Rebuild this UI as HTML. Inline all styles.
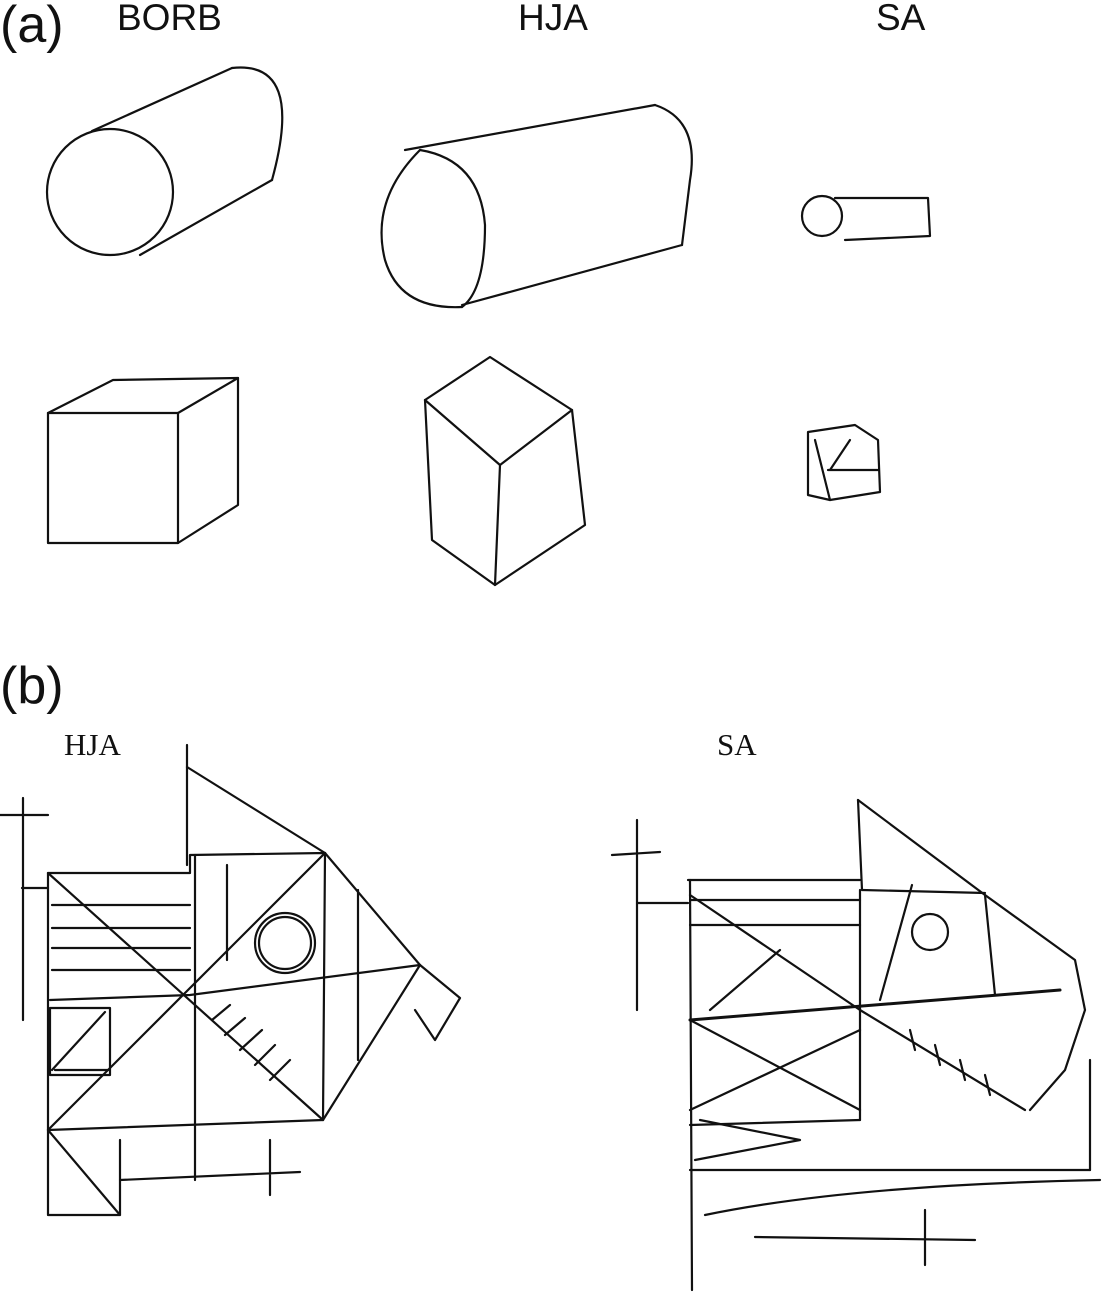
<!DOCTYPE html>
<html><head><meta charset="utf-8"><style>
html,body{margin:0;padding:0;background:#fff;}
svg{display:block;}
</style></head><body>
<svg width="1102" height="1301" viewBox="0 0 1102 1301" xmlns="http://www.w3.org/2000/svg">
<g font-family="Liberation Sans, sans-serif" fill="#111">
<text x="0" y="42" font-size="52">(a)</text>
<text x="117" y="30" font-size="37">BORB</text>
<text x="518" y="30" font-size="37">HJA</text>
<text x="876" y="30" font-size="37">SA</text>
<text x="0" y="703" font-size="52">(b)</text>
</g>
<g font-family="Liberation Serif, serif" fill="#111" font-size="31">
<text x="64" y="755">HJA</text>
<text x="717" y="755">SA</text>
</g>
<g fill="none" stroke="#111" stroke-width="2.2" stroke-linecap="round" stroke-linejoin="round">
<circle cx="110" cy="192" r="63"/>
<line x1="92" y1="131" x2="232" y2="68"/>
<line x1="140" y1="255" x2="272" y2="180"/>
<path d="M232 68 Q305 60 272 180"/>
<path d="M420 150 Q370 200 385 260 Q400 310 462 307"/>
<path d="M420 150 Q480 160 485 225 Q485 290 462 307"/>
<path d="M405 150 L655 105"/>
<path d="M462 305 L682 245"/>
<path d="M655 105 Q700 120 690 180 L682 245"/>
<circle cx="822" cy="216" r="20"/>
<path d="M835 198 L928 198 L930 236 L845 240"/>
<path d="M48 413 L178 413 L178 543 L48 543 Z"/>
<path d="M48 413 L113 380 L238 378 L178 413"/>
<path d="M238 378 L238 505 L178 543"/>
<path d="M425 400 L490 357 L572 410 L500 465 Z"/>
<path d="M425 400 L432 540 L495 585 L500 465"/>
<path d="M572 410 L585 525 L495 585"/>
<path d="M808 432 L855 425 L878 440 L880 492 L830 500 L808 495 Z"/>
<path d="M828 470 L878 470 M815 440 L830 500 M830 470 L850 440"/>
<line x1="187" y1="745" x2="187" y2="865"/>
<line x1="187" y1="767" x2="325" y2="853"/>
<line x1="0" y1="815" x2="48" y2="815"/>
<line x1="23" y1="798" x2="23" y2="1020"/>
<line x1="22" y1="888" x2="48" y2="888"/>
<path d="M48 873 L190 873 L190 855 L325 853 L323 1120 L48 1130 Z"/>
<line x1="48" y1="873" x2="323" y2="1120"/>
<line x1="48" y1="1130" x2="325" y2="853"/>
<line x1="52" y1="905" x2="190" y2="905"/>
<line x1="52" y1="928" x2="190" y2="928"/>
<line x1="52" y1="948" x2="190" y2="948"/>
<line x1="52" y1="970" x2="190" y2="970"/>
<line x1="195" y1="855" x2="195" y2="1180"/>
<line x1="227" y1="865" x2="227" y2="960"/>
<path d="M50 1000 L190 995 L420 965"/>
<path d="M325 853 L420 965 L323 1120"/>
<line x1="358" y1="890" x2="358" y2="1060"/>
<path d="M420 965 L460 998 L435 1040 L415 1010"/>
<circle cx="285" cy="943" r="30"/>
<circle cx="285" cy="943" r="26"/>
<path d="M212 1020 L230 1005 M225 1035 L245 1018 M240 1050 L262 1030 M255 1065 L275 1045 M270 1080 L290 1060"/>
<path d="M50 1008 L110 1008 L110 1075 L50 1075 Z M52 1070 L105 1012 M55 1070 L108 1070"/>
<path d="M48 1130 L120 1215 L48 1215 L48 1130 M120 1140 L120 1215"/>
<path d="M120 1180 L300 1172 M270 1140 L270 1195"/>
<line x1="612" y1="855" x2="660" y2="852"/>
<line x1="637" y1="820" x2="637" y2="1010"/>
<line x1="637" y1="903" x2="688" y2="903"/>
<path d="M688 880 L860 880"/>
<line x1="690" y1="880" x2="692" y2="1290"/>
<path d="M858 800 L862 890"/>
<path d="M858 800 L985 895 L1075 960 L1085 1010 L1065 1070 L1030 1110"/>
<path d="M690 1020 L1060 990" stroke-width="3"/>
<line x1="860" y1="890" x2="860" y2="1120"/>
<line x1="690" y1="895" x2="860" y2="1010"/>
<line x1="690" y1="900" x2="860" y2="900"/>
<line x1="690" y1="925" x2="860" y2="925"/>
<line x1="780" y1="950" x2="710" y2="1010"/>
<line x1="860" y1="1010" x2="1025" y2="1110"/>
<path d="M910 1030 L915 1050 M935 1045 L940 1065 M960 1060 L965 1080 M985 1075 L990 1095"/>
<line x1="912" y1="885" x2="880" y2="1000"/>
<line x1="985" y1="895" x2="995" y2="995"/>
<line x1="862" y1="890" x2="985" y2="893"/>
<circle cx="930" cy="932" r="18"/>
<line x1="690" y1="1020" x2="860" y2="1110"/>
<line x1="690" y1="1110" x2="860" y2="1030"/>
<line x1="690" y1="1125" x2="860" y2="1120"/>
<path d="M700 1120 L800 1140 L695 1160"/>
<line x1="690" y1="1170" x2="1090" y2="1170"/>
<line x1="1090" y1="1060" x2="1090" y2="1170"/>
<path d="M705 1215 Q850 1185 1100 1180"/>
<line x1="755" y1="1237" x2="975" y2="1240"/>
<line x1="925" y1="1210" x2="925" y2="1265"/>
</g>
</svg>
</body></html>
